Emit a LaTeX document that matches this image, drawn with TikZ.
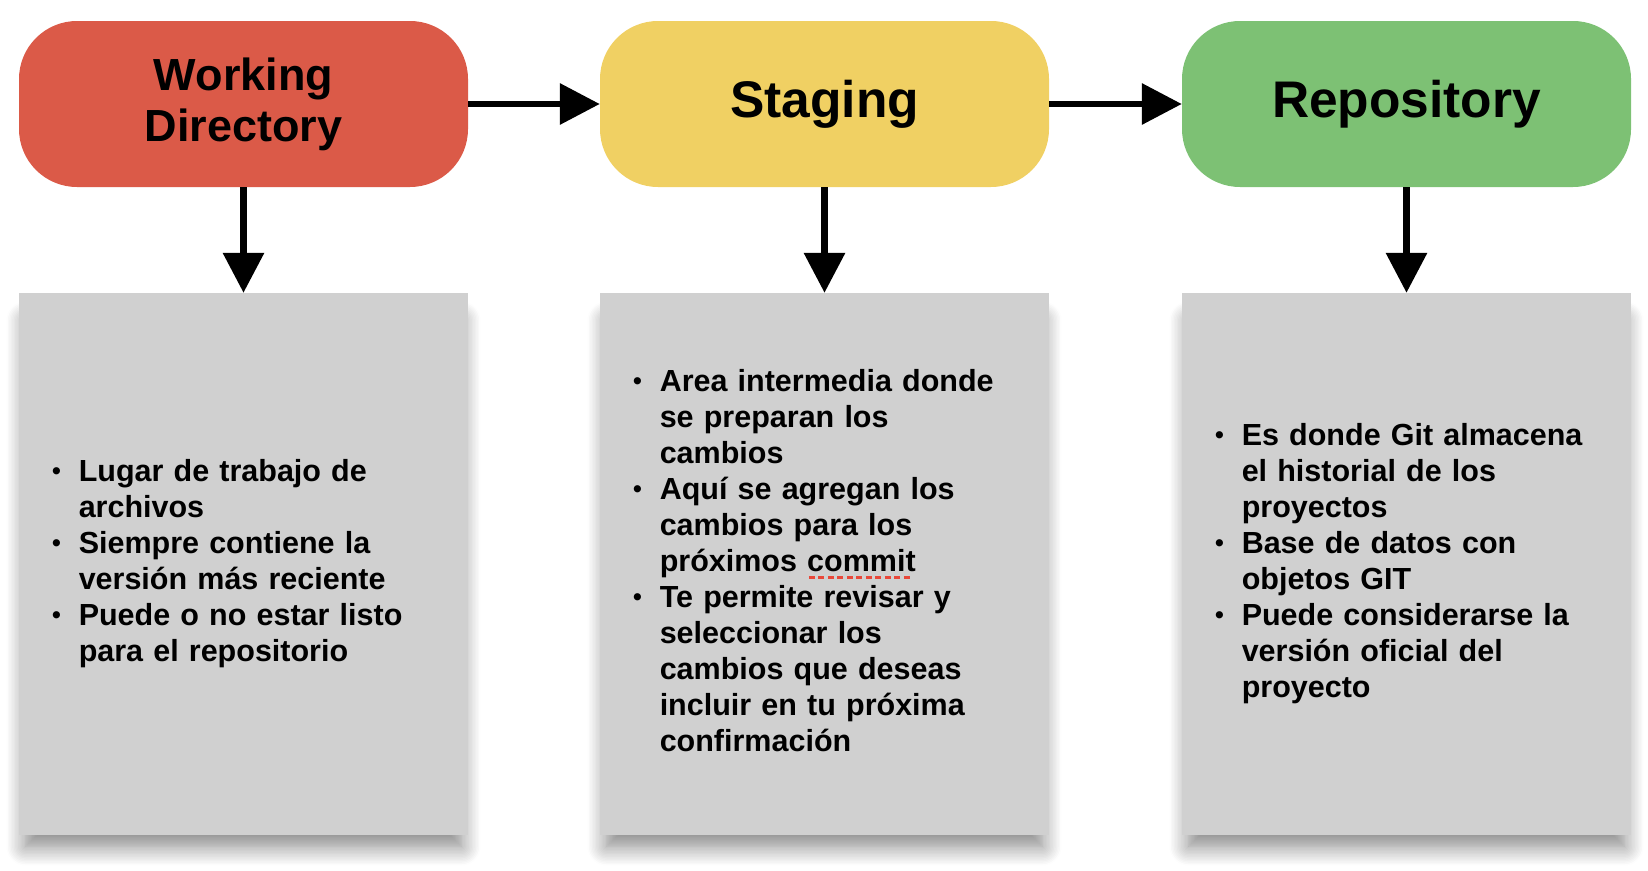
\documentclass[tikz,border=0pt]{standalone}
\usepackage{fontspec}
\setmainfont{Liberation Sans}
\usepackage{xcolor}
\usepackage{tikz}
\usetikzlibrary{positioning, arrows.meta, shadows.blur}

\definecolor{wdred}{HTML}{DB5A48}
\definecolor{stgyellow}{HTML}{F0D063}
\definecolor{repogreen}{HTML}{7DC174}
\definecolor{infogray}{HTML}{D0D0D0}
\definecolor{errred}{HTML}{E8483A}

\newcommand{\itm}{{\fontsize{25}{25}\selectfont\raisebox{1.5pt}{\textbullet}}}
\newcommand{\spellmark}[1]{\setbox0\hbox{#1}\rlap{\raisebox{-8pt}{\textcolor{errred}{\leaders\hbox to 9.5pt{\hss\rule{6pt}{3pt}\hss}\hskip\wd0}}}\box0}

\begin{document}
\begin{tikzpicture}[x=1pt, y=-1pt,
    stage/.style={rounded corners=58pt, minimum width=449pt, minimum height=166pt, align=center, inner sep=0pt},
    infobox/.style={fill=infogray, text width=383pt, inner xsep=33pt, minimum height=542pt, align=left,
        font=\fontsize{30.5}{36}\selectfont\bfseries,
        blur shadow={shadow xshift=0pt, shadow yshift=-20pt, shadow scale=0.97, shadow blur radius=20pt, shadow blur steps=14, shadow opacity=50}},
    flow/.style={line width=6.5pt, -{Triangle[width=40pt, length=40pt]}}]

    \node[stage, fill=wdred, font=\fontsize{45}{51}\selectfont\bfseries] at (243.5,104) (wd) {Working\\Directory};
    \node[stage, fill=stgyellow, font=\fontsize{51.5}{58}\selectfont\bfseries] at (824.5,104) (stg) {Staging};
    \node[stage, fill=repogreen, font=\fontsize{51.5}{58}\selectfont\bfseries] at (1406.5,104) (repo) {Repository};

    \node[infobox] at (243.5,564) (wdinfo) {%
        \begin{tabular}{@{}l@{\hspace{18pt}}l@{}}
            \itm & Lugar de trabajo de\\
                 & archivos\\
            \itm & Siempre contiene la\\
                 & versión más reciente\\
            \itm & Puede o no estar listo\\
                 & para el repositorio
        \end{tabular}};
    \node[infobox] at (824.5,564) (stginfo) {%
        \begin{tabular}{@{}l@{\hspace{18pt}}l@{}}
            \itm & Area intermedia donde\\
                 & se preparan los\\
                 & cambios\\
            \itm & Aquí se agregan los\\
                 & cambios para los\\
                 & próximos \spellmark{commit}\\
            \itm & Te permite revisar y\\
                 & seleccionar los\\
                 & cambios que deseas\\
                 & incluir en tu próxima\\
                 & confirmación
        \end{tabular}};
    \node[infobox] at (1406.5,564) (repoinfo) {%
        \begin{tabular}{@{}l@{\hspace{18pt}}l@{}}
            \itm & Es donde Git almacena\\
                 & el historial de los\\
                 & proyectos\\
            \itm & Base de datos con\\
                 & objetos GIT\\
            \itm & Puede considerarse la\\
                 & versión oficial del\\
                 & proyecto
        \end{tabular}};

    \draw[flow] (wd) -- (stg);
    \draw[flow] (stg) -- (repo);
    \draw[flow] (wd) -- (wdinfo);
    \draw[flow] (stg) -- (stginfo);
    \draw[flow] (repo) -- (repoinfo);

    \pgfresetboundingbox
    \useasboundingbox (0,0) rectangle (1648,870);
\end{tikzpicture}
\end{document}
